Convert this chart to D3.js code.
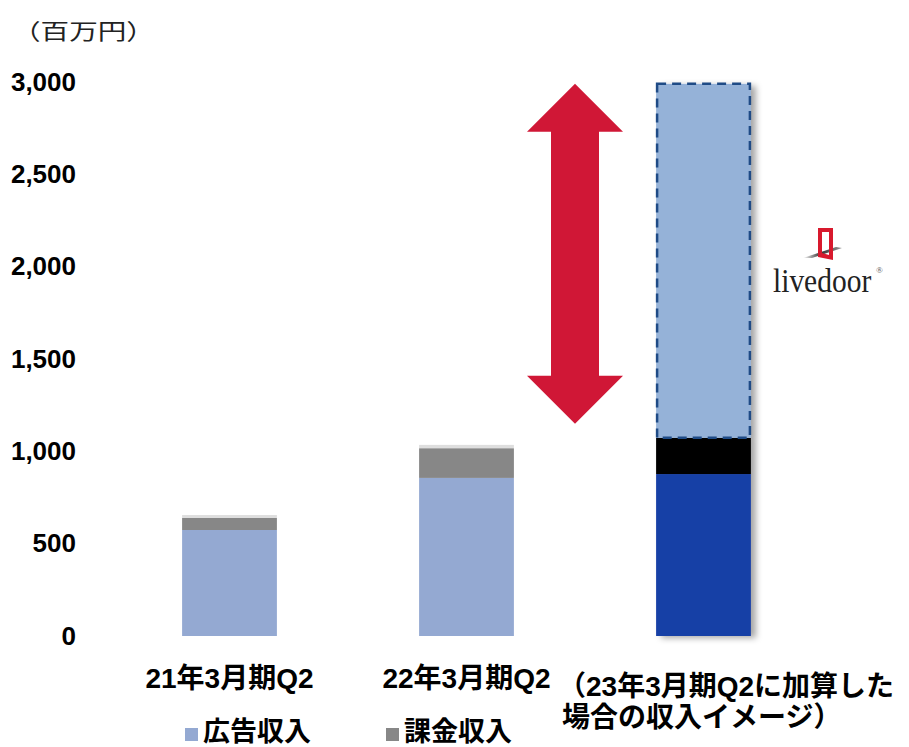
<!DOCTYPE html>
<html>
<head>
<meta charset="utf-8">
<script src="https://cdn.jsdelivr.net/npm/d3@7"></script>
<style>
  html, body { margin: 0; padding: 0; background: #fff; }
  svg { display: block; }
  .num { font-family: "Liberation Sans", Arial, sans-serif; font-weight: bold; }
  .jp { font-family: "Liberation Sans", "Noto Sans CJK JP", sans-serif; font-weight: bold; }
</style>
</head>
<body>
<svg id="chart" width="909" height="747"></svg>
<script>
// Revenue by half-year period (百万円)
const categories = ["21年3月期Q2", "22年3月期Q2", "23年3月期Q2"];
const adRevenue = [574, 856, 877];          // 広告収入
const billingRevenue = [65, 161, 196];      // 課金収入
const otherRevenue = [16, 18, 0];           // その他
const livedoorRevenue = [0, 0, 1917];       // livedoor 加算分
const yTicks = [0, 500, 1000, 1500, 2000, 2500, 3000];
const arrowRange = [1150, 2990];

const svg = d3.select("#chart");

const x = d3.scaleBand()
  .domain(categories)
  .range([111, 822])
  .paddingInner(0.6)
  .paddingOuter(0.3);

const y = d3.scaleLinear().domain([0, 3000]).range([636, 82]);

const defs = svg.append("defs");
const shadow = defs.append("filter").attr("id", "shadow")
  .attr("x", "-20%").attr("y", "-5%").attr("width", "140%").attr("height", "110%");
shadow.append("feDropShadow")
  .attr("dx", 5).attr("dy", 2).attr("stdDeviation", 3)
  .attr("flood-color", "#000").attr("flood-opacity", 0.35);

const grad = defs.append("linearGradient").attr("id", "wedge")
  .attr("x1", "0%").attr("x2", "100%").attr("y1", "0%").attr("y2", "0%");
grad.append("stop").attr("offset", "0%").attr("stop-color", "#fff");
grad.append("stop").attr("offset", "45%").attr("stop-color", "#333");
grad.append("stop").attr("offset", "100%").attr("stop-color", "#999");

// Y axis tick labels (no axis line)
const yAxis = d3.axisLeft(y).tickValues(yTicks).tickSize(0).tickPadding(0)
  .tickFormat(d3.format(","));
const yg = svg.append("g").attr("transform", "translate(76,0)").call(yAxis);
yg.select(".domain").remove();
yg.selectAll("text")
  .attr("class", "num")
  .attr("font-size", 26)
  .attr("fill", "#000")
  .attr("dy", "0.32em");

// unit label, drawn slightly widened
svg.append("g")
  .attr("transform", "translate(12,39) scale(1.3,1)")
  .append("text")
  .attr("x", 0).attr("y", 0)
  .attr("font-family", "'Noto Sans CJK JP', sans-serif")
  .attr("font-size", 22)
  .attr("fill", "#222")
  .text("（百万円）");

// Stacked segments for each bar
const stackKeys = ["ad", "billing", "other", "livedoor"];
const rows = categories.map((c, i) => ({
  cat: c, i,
  ad: adRevenue[i], billing: billingRevenue[i],
  other: otherRevenue[i], livedoor: livedoorRevenue[i]
}));
const stacked = d3.stack().keys(stackKeys)(rows);

const fills = {
  ad: ["#94a9d2", "#94a9d2", "#1840a6"],
  billing: ["#878787", "#878787", "#000000"],
  other: ["#dedede", "#dedede", "#dedede"],
  livedoor: ["#95b2d8", "#95b2d8", "#95b2d8"]
};

// shadow group for the third bar
const thirdG = svg.append("g").attr("filter", "url(#shadow)");

stacked.forEach(layer => {
  layer.forEach(seg => {
    const h = y(seg[0]) - y(seg[1]);
    if (h <= 0) return;
    const i = seg.data.i;
    const parent = i === 2 ? thirdG : svg;
    parent.append("rect")
      .attr("x", x(seg.data.cat))
      .attr("y", y(seg[1]))
      .attr("width", x.bandwidth())
      .attr("height", h)
      .attr("fill", fills[layer.key][i]);
  });
});

// dashed outline of the livedoor segment
const ldLayer = stacked.find(l => l.key === "livedoor")[2];
svg.append("rect")
  .attr("x", x(categories[2]) + 1)
  .attr("y", y(ldLayer[1]))
  .attr("width", x.bandwidth() - 2)
  .attr("height", y(ldLayer[0]) - y(ldLayer[1]))
  .attr("fill", "none")
  .attr("stroke", "#1f4b86")
  .attr("stroke-width", 2.5)
  .attr("stroke-dasharray", "9,6");

// double-headed arrow
const ax = 575, headHalf = 48, shaftHalf = 24, headLen = 48;
const yTop = y(arrowRange[1]), yBot = y(arrowRange[0]);
svg.append("path")
  .attr("d", [
    "M", ax, yTop,
    "L", ax + headHalf, yTop + headLen,
    "L", ax + shaftHalf, yTop + headLen,
    "L", ax + shaftHalf, yBot - headLen,
    "L", ax + headHalf, yBot - headLen,
    "L", ax, yBot,
    "L", ax - headHalf, yBot - headLen,
    "L", ax - shaftHalf, yBot - headLen,
    "L", ax - shaftHalf, yTop + headLen,
    "L", ax - headHalf, yTop + headLen, "Z"
  ].join(" "))
  .attr("fill", "#d01736");

// livedoor logo
const logo = svg.append("g");
logo.append("path")
  .attr("d", "M803,258 L836,247 L842,248 L812,258 Z")
  .attr("fill", "url(#wedge)");
logo.append("path")
  .attr("d", "M818,228 L833,228 L833,260 L818,257 Z M822,232 L822,253 L829,255 L829,232 Z")
  .attr("fill", "#d8192d")
  .attr("fill-rule", "evenodd");
logo.append("g")
  .attr("transform", "translate(773,292) scale(1,1.15)")
  .append("text")
  .attr("x", 0).attr("y", 0)
  .attr("font-family", "'Liberation Serif', 'DejaVu Serif', serif")
  .attr("font-size", 29.5)
  .attr("fill", "#222")
  .text("livedoor");
logo.append("text")
  .attr("x", 876).attr("y", 273)
  .attr("font-family", "'Liberation Serif', serif")
  .attr("font-size", 9)
  .attr("fill", "#555")
  .text("®");

// category labels
svg.append("text").attr("class", "jp")
  .attr("x", x(categories[0]) + x.bandwidth() / 2).attr("y", 688)
  .attr("text-anchor", "middle").attr("font-size", 28).text(categories[0]);
svg.append("text").attr("class", "jp")
  .attr("x", x(categories[1]) + x.bandwidth() / 2).attr("y", 688)
  .attr("text-anchor", "middle").attr("font-size", 28).text(categories[1]);
svg.append("text").attr("class", "jp")
  .attr("x", 558).attr("y", 696)
  .attr("font-size", 28).text("（" + categories[2] + "に加算した");
svg.append("text").attr("class", "jp")
  .attr("x", 562).attr("y", 727)
  .attr("font-size", 28).text("場合の収入イメージ）");

// legend
const legend = [
  { label: "広告収入", color: "#94a9d2", x: 185 },
  { label: "課金収入", color: "#878787", x: 386 }
];
legend.forEach(d => {
  svg.append("rect").attr("x", d.x).attr("y", 728).attr("width", 13).attr("height", 13)
    .attr("fill", d.color);
  svg.append("text").attr("class", "jp")
    .attr("x", d.x + 18).attr("y", 741)
    .attr("font-size", 27).text(d.label);
});
</script>
</body>
</html>
